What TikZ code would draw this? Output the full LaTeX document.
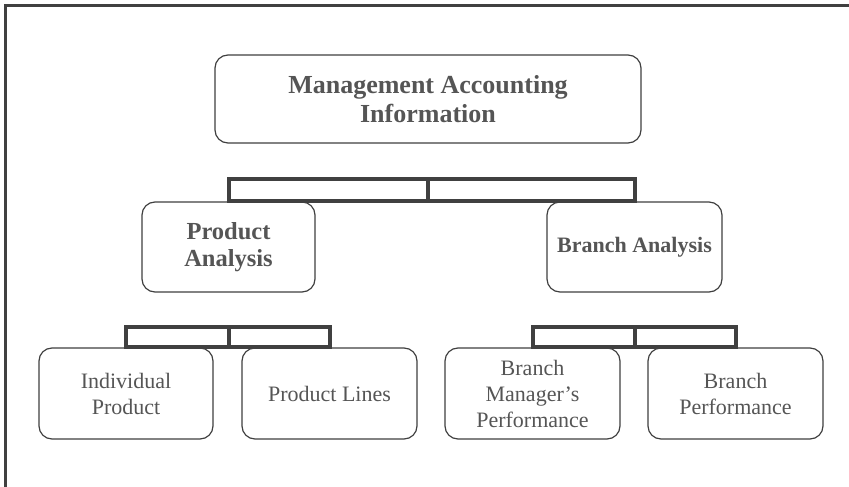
\documentclass[tikz,border=0pt]{standalone}
\usepackage{fontspec}
\setmainfont{Liberation Serif}
\usetikzlibrary{calc}
\definecolor{linegray}{HTML}{404040}
\definecolor{textgray}{HTML}{555555}

\begin{document}
\begin{tikzpicture}[x=1pt, y=-1pt,
	box/.style={draw=linegray, line width=1.2pt, rounded corners=13pt, align=center, inner sep=0pt, text=textgray},
	headbox/.style={box, minimum height=90pt},
	leafbox/.style={box, minimum width=175pt, minimum height=91pt, font=\fontsize{22}{26}\selectfont},
	bar/.style={draw=linegray, line width=4pt}]
			%%%%% START %%%%%
			
			\useasboundingbox[fill=white] (0,0) rectangle (849,487);
			\draw[line width=2.5pt, color=linegray] (5.5,487) -- (5.5,5.5) -- (849,5.5);
			
			\node[box, minimum width=426pt, minimum height=88pt, font=\fontsize{26}{29}\selectfont\bfseries] (mai) at (428, 99) {Management Accounting\\Information};
			
			\node[headbox, minimum width=173pt, font=\fontsize{24.5}{27}\selectfont\bfseries] (pa) at (228.5, 247) {Product\\Analysis};
			\node[headbox, minimum width=175pt, font=\fontsize{22}{26}\selectfont\bfseries] (ba) at (634.5, 247) {Branch Analysis};
			
			\node[leafbox, minimum width=174pt] (ip) at (126, 393.5) {Individual\\Product};
			\node[leafbox] (pl) at (329.5, 393.5) {Product Lines};
			\node[leafbox] (bm) at (532.5, 393.5) {Branch\\Manager’s\\Performance};
			\node[leafbox] (bp) at (735.5, 393.5) {Branch\\Performance};
			
			\draw[bar] ($(pa.north)+(0,-22)$) rectangle (mai.south |- pa.north);
			\draw[bar] (mai.south |- pa.north) rectangle ($(ba.north)+(0,-22)$);
			
			\draw[bar] ($(ip.north)+(0,-20)$) rectangle (pa.south |- ip.north);
			\draw[bar] (pa.south |- ip.north) rectangle ($(pl.north)+(0,-20)$);
			
			\draw[bar] ($(bm.north)+(0,-20)$) rectangle (ba.south |- bm.north);
			\draw[bar] (ba.south |- bm.north) rectangle ($(bp.north)+(0,-20)$);
			
			%%%%% END %%%%%
\end{tikzpicture}
\end{document}
